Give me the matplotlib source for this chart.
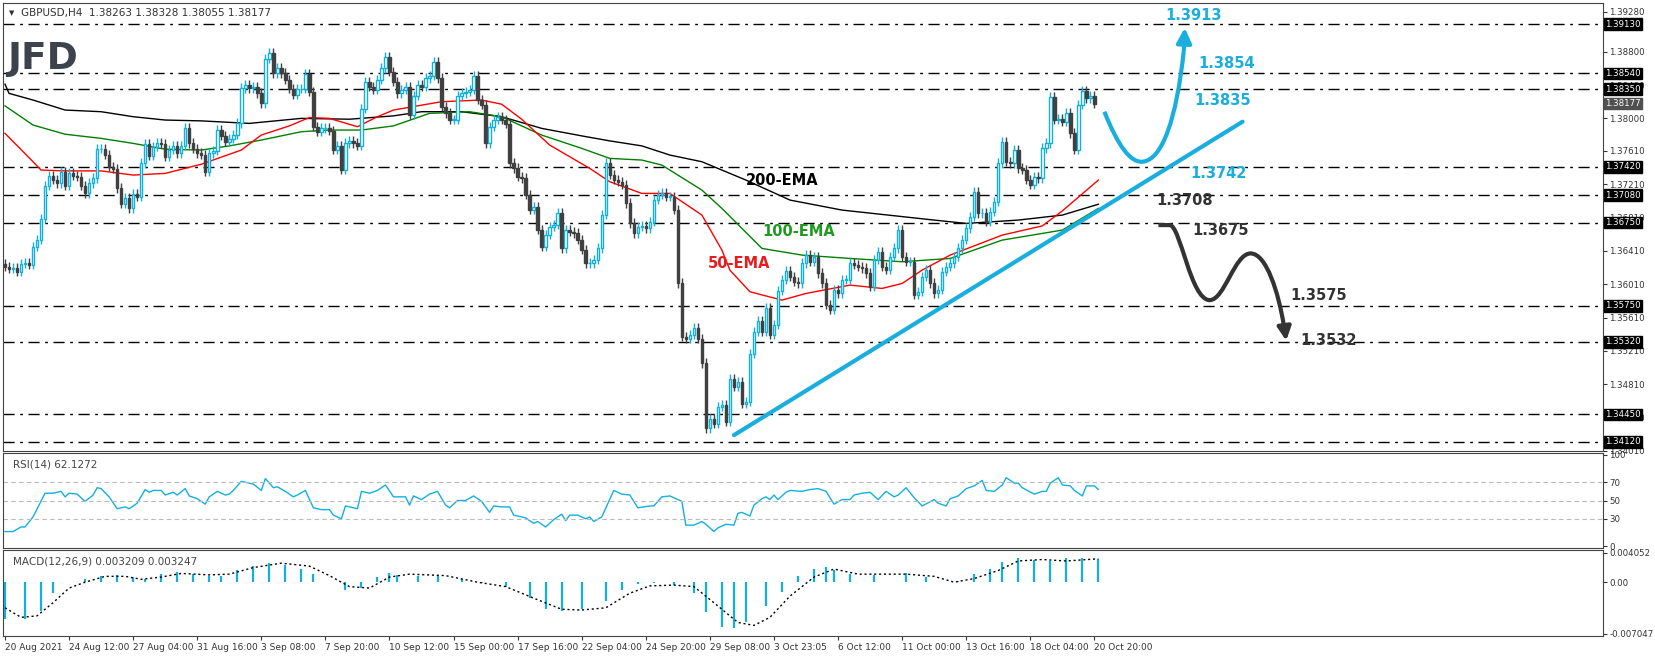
import numpy as np
import matplotlib.pyplot as plt
from matplotlib.path import Path
from matplotlib.patches import PathPatch

# closes of the H4 candles, oldest first
closes = [
    1.3622, 1.3619, 1.3620, 1.3616, 1.3625, 1.3626, 1.3624, 1.3646, 1.3654, 1.3679,
    1.3719, 1.3731, 1.3726, 1.3722, 1.3736, 1.3719, 1.3734, 1.3731, 1.3730, 1.3719,
    1.3710, 1.3722, 1.3728, 1.3763, 1.3763, 1.3756, 1.3742, 1.3739, 1.3716, 1.3697,
    1.3704, 1.3692, 1.3709, 1.3706, 1.3746, 1.3769, 1.3755, 1.3766, 1.3770, 1.3769,
    1.3754, 1.3762, 1.3767, 1.3758, 1.3767, 1.3788, 1.3770, 1.3763, 1.3758,
    1.3756, 1.3736, 1.3758, 1.3761, 1.3786, 1.3779, 1.3772, 1.3775, 1.3780, 1.3794,
    1.3836, 1.3840, 1.3836, 1.3838, 1.3830, 1.3818, 1.3871, 1.3878, 1.3854, 1.3860,
    1.3854, 1.3846, 1.3835, 1.3828, 1.3835, 1.3835, 1.3853, 1.3832, 1.3790, 1.3784,
    1.3788, 1.3788, 1.3785, 1.3762, 1.3767, 1.3738, 1.3770, 1.3773, 1.3770, 1.3767,
    1.3811, 1.3844, 1.3838, 1.3834, 1.3846, 1.3860, 1.3874, 1.3856, 1.3844,
    1.3830, 1.3834, 1.3838, 1.3804, 1.3827, 1.3840, 1.3838, 1.3848, 1.3851, 1.3868,
    1.3848, 1.3814, 1.3806, 1.3798, 1.3798, 1.3827, 1.3830, 1.3832, 1.3834, 1.3851,
    1.3822, 1.3816, 1.3770, 1.3790, 1.3798, 1.3802, 1.3798, 1.3793, 1.3746, 1.3740,
    1.3730, 1.3728, 1.3708, 1.3690, 1.3694, 1.3666, 1.3646, 1.3660, 1.3670, 1.3672,
    1.3686, 1.3644, 1.3666, 1.3664, 1.3662, 1.3654, 1.3642, 1.3626, 1.3626, 1.3630,
    1.3644, 1.3684, 1.3746, 1.3732, 1.3726, 1.3724, 1.3720, 1.3698, 1.3674, 1.3662,
    1.3670, 1.3671, 1.3668, 1.3676, 1.3702, 1.3708, 1.3710, 1.3706, 1.3706, 1.3690,
    1.3602, 1.3538, 1.3535, 1.3540, 1.3548, 1.3535, 1.3506, 1.3428, 1.3439, 1.3433,
    1.3454, 1.3456, 1.3436, 1.3487, 1.3478, 1.3484, 1.3457, 1.3460, 1.3517, 1.3544,
    1.3557, 1.3544, 1.3572, 1.3540, 1.3552, 1.3593, 1.3606, 1.3617, 1.3610, 1.3604,
    1.3602, 1.3626,
    1.3636, 1.3628, 1.3634, 1.3614, 1.3602, 1.3576, 1.3570, 1.3594, 1.3590, 1.3606,
    1.3606, 1.3626, 1.3624, 1.3622, 1.3620, 1.3614, 1.3598, 1.3630, 1.3640, 1.3622,
    1.3618, 1.3634, 1.3644, 1.3666, 1.3634, 1.3628, 1.3628, 1.3588, 1.3592, 1.3610,
    1.3618, 1.3602, 1.3590, 1.3594, 1.3616, 1.3622, 1.3626, 1.3634, 1.3644, 1.3654,
    1.3668, 1.3682, 1.3712, 1.3686, 1.3686, 1.3676, 1.3688, 1.3700, 1.3746, 1.3772,
    1.3748, 1.3746, 1.3762, 1.3740, 1.3738, 1.3726, 1.3720, 1.3730,
    1.3728, 1.3764, 1.3770, 1.3826, 1.3798, 1.3799, 1.3796, 1.3806, 1.3782, 1.3762,
    1.3816, 1.3833, 1.3824, 1.3827, 1.38177,
]

# moving averages, read at a few bars
ema200_bar = [0, 1, 7, 15, 24, 32, 40, 49, 61, 74, 86, 97, 104, 114, 124, 134, 144, 151, 159, 166, 174, 185, 196, 209, 232, 240, 253, 264, 273]
ema200_val = [1.3841, 1.3830, 1.3822, 1.3810, 1.3808, 1.3802, 1.3798, 1.3797, 1.3794, 1.3800, 1.3799, 1.3803, 1.3808, 1.3808, 1.3802, 1.3788, 1.3779, 1.3773, 1.3767, 1.3756, 1.3748, 1.3726, 1.3702, 1.3690, 1.3678, 1.3674, 1.3678, 1.3684, 1.3697]
ema100_bar = [0, 7, 15, 24, 32, 40, 49, 56, 64, 74, 81, 89, 97, 106, 116, 124, 134, 144, 151, 159, 164, 174, 179, 189, 199, 211, 224, 236, 249, 264, 273]
ema100_val = [1.3815, 1.3792, 1.3781, 1.3776, 1.3770, 1.3763, 1.3762, 1.3767, 1.3774, 1.3784, 1.3786, 1.3786, 1.3791, 1.3806, 1.3808, 1.3802, 1.3780, 1.3764, 1.3752, 1.3750, 1.3744, 1.3714, 1.3692, 1.3644, 1.3636, 1.3632, 1.3628, 1.3632, 1.3654, 1.3666, 1.3692]
ema50_bar = [0, 7, 9, 15, 24, 32, 40, 49, 59, 64, 71, 76, 81, 88, 93, 97, 109, 119, 124, 129, 136, 146, 151, 159, 166, 174, 179, 181, 186, 194, 200, 211, 219, 224, 229, 236, 249, 259, 264, 273]
ema50_val = [1.3782, 1.3748, 1.3738, 1.3737, 1.3737, 1.3732, 1.3734, 1.3745, 1.3762, 1.3780, 1.3791, 1.3801, 1.3800, 1.3790, 1.3802, 1.3810, 1.3820, 1.3822, 1.3817, 1.3799, 1.3768, 1.3740, 1.3724, 1.3710, 1.3710, 1.3684, 1.3642, 1.3618, 1.3592, 1.3582, 1.3590, 1.3600, 1.3596, 1.3602, 1.3618, 1.3636, 1.3660, 1.3671, 1.3689, 1.3726]

rsi_bar = [0, 2, 4, 5, 7, 10, 12, 14, 15, 16, 18, 20, 22, 23, 24, 26, 28, 30, 31, 33, 35, 36, 37, 39, 40, 42, 43, 45, 46, 48, 50, 51, 53, 55, 56, 57, 59, 60, 62, 64, 65, 67, 68, 70, 72, 73, 75, 77, 79, 81, 82, 84, 85, 86, 88, 89, 91, 93, 95, 97, 100, 101, 102, 104, 106, 108, 110, 111, 113, 115, 117, 119, 121, 122, 124, 126, 127, 130, 132, 133, 135, 137, 139, 140, 141, 143, 145, 146, 147, 149, 152, 154, 156, 158, 161, 162, 164, 166, 168, 169, 170, 172, 174, 175, 177, 178, 180, 182, 183, 184, 186, 187, 189, 190, 191, 192, 193, 195, 196, 199, 201, 203, 205, 207, 209, 211, 212, 214, 216, 218, 220, 222, 223, 225, 227, 229, 232, 233, 235, 236, 238, 240, 242, 244, 245, 247, 249, 250, 252, 253, 254, 257, 259, 260, 261, 263, 264, 266, 267, 269, 270, 272, 273]
rsi_val = [16, 16, 21, 21, 32, 58, 58, 60, 54, 58, 57, 49, 56, 64, 63, 54, 41, 43, 41, 47, 62, 59, 61, 61, 56, 59, 56, 63, 55, 52, 46, 54, 60, 56, 57, 61, 71, 70, 68, 61, 74, 64, 65, 60, 54, 56, 61, 42, 40, 40, 34, 30, 44, 43, 41, 60, 58, 61, 67, 54, 54, 45, 55, 51, 57, 60, 45, 42, 50, 50, 55, 49, 37, 44, 43, 43, 34, 31, 25, 27, 21, 29, 35, 28, 34, 34, 30, 32, 27, 32, 61, 57, 56, 42, 44, 44, 54, 55, 51, 49, 23, 23, 27, 24, 16, 20, 24, 23, 36, 37, 33, 45, 52, 54, 51, 56, 51, 59, 61, 60, 62, 63, 60, 46, 51, 51, 56, 58, 59, 51, 60, 54, 56, 64, 53, 44, 51, 47, 44, 52, 55, 63, 66, 72, 61, 60, 67, 75, 69, 69, 64, 57, 60, 60, 69, 75, 67, 66, 61, 55, 66, 66, 62.13]

macd_bar = [0, 5, 9, 12, 16, 20, 24, 28, 32, 35, 39, 43, 47, 51, 54, 58, 62, 66, 70, 74, 77, 81, 85, 89, 93, 96, 98, 103, 108, 114, 119, 125, 131, 135, 139, 144, 150, 154, 158, 162, 167, 172, 175, 179, 182, 185, 190, 194, 198, 202, 205, 207, 211, 217, 225, 230, 234, 238, 242, 246, 249, 253, 257, 261, 265, 269, 273]
macd_val = [-0.0050, -0.0050, -0.0039, -0.0015, 0.0000, 0.0004, 0.0009, 0.0010, 0.0007, 0.0005, 0.0011, 0.0014, 0.0011, 0.0008, 0.0009, 0.0016, 0.0022, 0.0026, 0.0024, 0.0018, 0.0011, 0.0000, -0.0010, -0.0008, 0.0007, 0.0013, 0.0010, 0.0009, 0.0008, 0.0005, -0.0001, -0.0006, -0.0022, -0.0037, -0.0039, -0.0037, -0.0026, -0.0011, -0.0002, -0.0001, -0.0004, -0.0015, -0.0041, -0.0061, -0.0063, -0.0055, -0.0033, -0.0013, 0.0009, 0.0018, 0.0021, 0.0016, 0.0011, 0.0010, 0.0013, 0.0007, 0.0000, 0.0002, 0.0011, 0.0018, 0.0027, 0.0033, 0.0031, 0.0029, 0.0033, 0.0033, 0.0032]
signal_bar = [0, 4, 8, 12, 16, 20, 25, 30, 34, 39, 44, 51, 56, 62, 69, 76, 81, 86, 91, 96, 101, 110, 118, 125, 133, 139, 144, 150, 156, 161, 167, 172, 177, 183, 187, 191, 196, 202, 207, 213, 225, 232, 237, 242, 248, 253, 259, 265, 273]
signal_val = [-0.0035, -0.0048, -0.0046, -0.0028, -0.0008, 0.0000, 0.0008, 0.0008, 0.0004, 0.0007, 0.0012, 0.0010, 0.0011, 0.0020, 0.0026, 0.0022, 0.0009, -0.0006, -0.0008, 0.0007, 0.0011, 0.0009, 0.0000, -0.0006, -0.0024, -0.0037, -0.0038, -0.0035, -0.0015, -0.0005, -0.0004, -0.0006, -0.0028, -0.0055, -0.0059, -0.0048, -0.0019, 0.0007, 0.0018, 0.0011, 0.0011, 0.0008, 0.0000, 0.0005, 0.0016, 0.0029, 0.0031, 0.0029, 0.0032]

levels = [1.3913, 1.3854, 1.3835, 1.3742, 1.3708, 1.3675, 1.3575, 1.3532, 1.3445, 1.3412]
price_ticks = [1.39280, 1.38800, 1.38400, 1.38000, 1.37610, 1.37210, 1.36810, 1.36410,
               1.36010, 1.35610, 1.35210, 1.34810, 1.34410, 1.34010]
date_labels = ['20 Aug 2021', '24 Aug 12:00', '27 Aug 04:00', '31 Aug 16:00', '3 Sep 08:00',
               '7 Sep 20:00', '10 Sep 12:00', '15 Sep 00:00', '17 Sep 16:00', '22 Sep 04:00',
               '24 Sep 20:00', '29 Sep 08:00', '3 Oct 23:05', '6 Oct 12:00', '11 Oct 00:00',
               '13 Oct 16:00', '18 Oct 04:00', '20 Oct 20:00']
last_price = 1.38177

CYAN = '#12b0e0'
ARROW_CYAN = '#1aaede'
DARK = '#404040'

fig = plt.figure(figsize=(16.55, 6.56), dpi=100)
fig.patch.set_facecolor('white')
W = 1600 / 1655
ax = fig.add_axes([3/1655, 1-451/656, W, 448/656])
ax_rsi = fig.add_axes([3/1655, 1-548/656, W, 95/656], sharex=ax)
ax_macd = fig.add_axes([3/1655, 1-636/656, W, 86/656], sharex=ax)

n = len(closes)
opens = [closes[0] + 0.0003] + closes[:-1]

# candles
for i in range(n):
    o, c = opens[i], closes[i]
    lo, hi = min(o, c), max(o, c)
    up = c >= o
    col = CYAN if up else DARK
    ax.vlines(i, lo - 0.0005, hi + 0.0006, color=col, lw=1, zorder=3)
    body = max(hi - lo, 0.00008)
    ax.bar(i, body, bottom=lo, width=0.62, facecolor='white' if up else DARK,
           edgecolor=col, lw=1, zorder=4)

ax.plot(ema200_bar, ema200_val, color='black', lw=1, zorder=2)
ax.plot(ema100_bar, ema100_val, color='green', lw=1, zorder=2)
ax.plot(ema50_bar, ema50_val, color='red', lw=1, zorder=2)

for lv in levels:
    ax.axhline(lv, color='black', lw=1, dashes=(8, 4, 2, 4), zorder=1)

# trend line
ax.plot([182, 309], [1.3420, 1.3796], color=ARROW_CYAN, lw=3, zorder=5, solid_capstyle='round')

# bullish path
up_path = Path([(274.5, 1.3808), (278, 1.3766), (281, 1.3747), (284, 1.3748),
                (289, 1.3750), (292.5, 1.3800), (294.3, 1.3880)],
               [Path.MOVETO, Path.CURVE4, Path.CURVE4, Path.CURVE4,
                Path.CURVE4, Path.CURVE4, Path.CURVE4])
ax.add_patch(PathPatch(up_path, fill=False, ec=ARROW_CYAN, lw=3, zorder=5))
ax.annotate('', xy=(294.6, 1.3912), xytext=(294.3, 1.3878),
            arrowprops=dict(arrowstyle='-|>', color=ARROW_CYAN, lw=3, mutation_scale=22), zorder=6)

# bearish path
dn_path = Path([(288, 1.3672), (290.8, 1.3672),
                (293.5, 1.3672), (296, 1.3582), (300.8, 1.3582),
                (304.5, 1.3582), (307, 1.3638), (311, 1.3638),
                (315, 1.3638), (318, 1.3590), (319.3, 1.3552)],
               [Path.MOVETO, Path.LINETO,
                Path.CURVE4, Path.CURVE4, Path.CURVE4,
                Path.CURVE4, Path.CURVE4, Path.CURVE4,
                Path.CURVE4, Path.CURVE4, Path.CURVE4])
ax.add_patch(PathPatch(dn_path, fill=False, ec='#333333', lw=3, zorder=5))
ax.annotate('', xy=(320.0, 1.3530), xytext=(319.3, 1.3555),
            arrowprops=dict(arrowstyle='-|>', color='#333333', lw=3, mutation_scale=20), zorder=6)

lab = dict(fontsize=10.5, fontweight='bold', va='center', zorder=7)
ax.text(296.7, 1.3924, '1.3913', color=ARROW_CYAN, ha='center', **lab)
ax.text(298, 1.3866, '1.3854', color=ARROW_CYAN, **lab)
ax.text(297, 1.3822, '1.3835', color=ARROW_CYAN, **lab)
ax.text(296, 1.3734, '1.3742', color=ARROW_CYAN, **lab)
ax.text(287.5, 1.3702, '1.3708', color='#333333', **lab)
ax.text(296.5, 1.3666, '1.3675', color='#333333', **lab)
ax.text(321, 1.3588, '1.3575', color='#333333', **lab)
ax.text(323.5, 1.3534, '1.3532', color='#333333', **lab)
ax.text(185, 1.3726, '200-EMA', color='black', **lab)
ax.text(189, 1.3664, '100-EMA', color='#1f9a1f', **lab)
ax.text(175.5, 1.3626, '50-EMA', color='#e81c1c', **lab)

ax.text(0.004, 0.985, '\u25bc', transform=ax.transAxes, fontsize=5, color='#333', va='top')
ax.text(0.0115, 0.988, 'GBPUSD,H4  1.38263 1.38328 1.38055 1.38177', transform=ax.transAxes,
        fontsize=7.5, color='#333', va='top')
ax.text(0.0025, 0.915, 'JFD', transform=ax.transAxes, fontsize=27, fontweight='bold',
        color='#3d434b', va='top', family='DejaVu Sans')

ax.set_xlim(-0.5, 399)
ax.set_ylim(1.3401, 1.39384)

for a in (ax, ax_rsi, ax_macd):
    a.yaxis.tick_right()
    a.tick_params(axis='y', labelsize=6.2, length=3, colors='#333', pad=1.5)
    a.tick_params(axis='x', length=0, labelbottom=False)
    for s in a.spines.values():
        s.set_color('#444')

ax.set_yticks(price_ticks)
ax.set_yticklabels(['%.5f' % t for t in price_ticks])
for lv in levels:
    ax.text(1.0015, lv, '%.5f' % lv, transform=ax.get_yaxis_transform(), fontsize=6.2,
            color='white', va='center', ha='left', zorder=8,
            bbox=dict(boxstyle='square,pad=0.15', fc='black', ec='black'))
ax.text(1.0015, last_price, '%.5f' % last_price, transform=ax.get_yaxis_transform(), fontsize=6.2,
        color='white', va='center', ha='left', zorder=8,
        bbox=dict(boxstyle='square,pad=0.15', fc='#505050', ec='#505050'))

# RSI
ax_rsi.plot(rsi_bar, rsi_val, color=CYAN, lw=1)
for lv in (70, 50, 30):
    ax_rsi.axhline(lv, color='#bbbbbb', lw=0.8, ls=(0, (4, 3)))
ax_rsi.set_ylim(-2, 102)
ax_rsi.set_yticks([100, 70, 50, 30, 0])
ax_rsi.text(0.006, 0.93, 'RSI(14) 62.1272', transform=ax_rsi.transAxes, fontsize=7.5,
            color='#444', va='top')

# MACD
ax_macd.vlines(macd_bar, 0, macd_val, color=CYAN, lw=1.6)
ax_macd.plot(signal_bar, signal_val, color='black', lw=1, ls=(0, (1.5, 2)))
ax_macd.set_ylim(-0.00735, 0.00440)
ax_macd.set_yticks([0.004052, 0.0, -0.007047])
ax_macd.set_yticklabels(['0.004052', '0.00', '-0.007047'])
ax_macd.text(0.006, 0.93, 'MACD(12,26,9) 0.003209 0.003247', transform=ax_macd.transAxes,
             fontsize=7.5, color='#444', va='top')

ax_macd.set_xticks([16 * k for k in range(len(date_labels))])
ax_macd.tick_params(axis='x', labelbottom=True, length=3, labelsize=6.5, colors='#333', pad=2)
ax_macd.set_xticklabels(date_labels, ha='left')

fig.savefig('out.png', dpi=100, facecolor='white')
